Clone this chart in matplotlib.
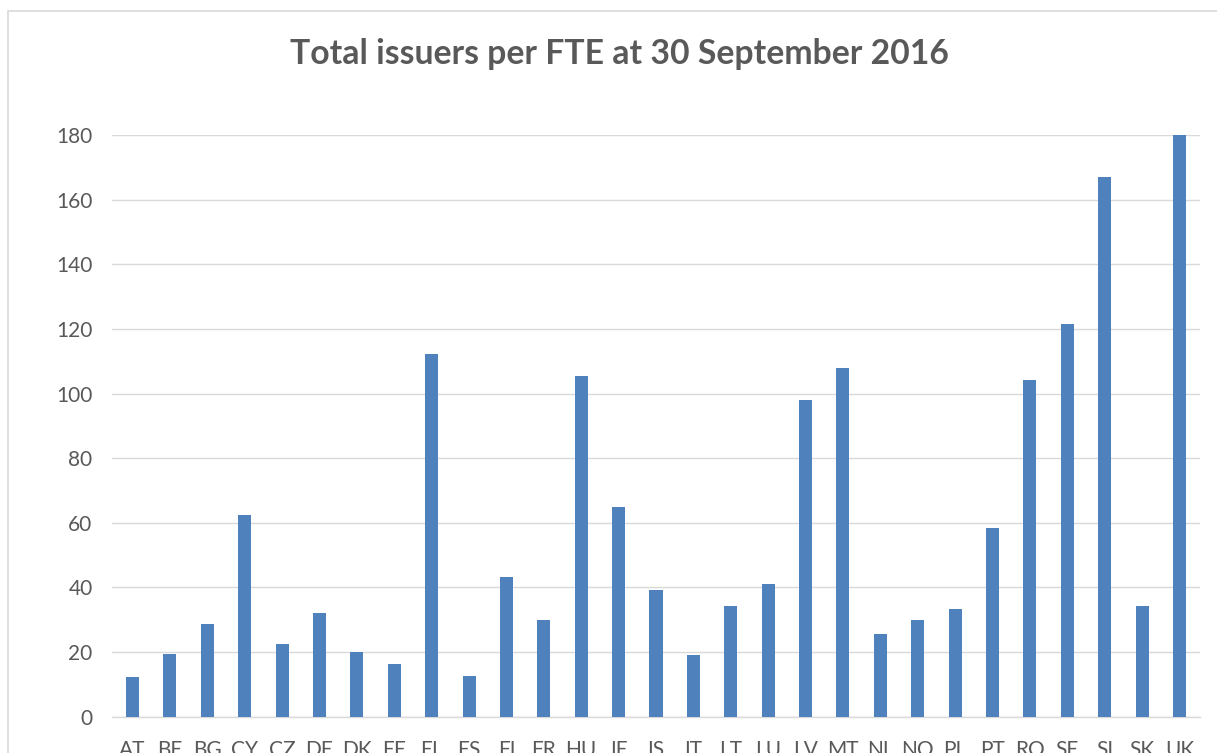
import matplotlib
matplotlib.use('Agg')
import matplotlib.pyplot as plt
from matplotlib.patches import Rectangle

countries = ['AT', 'BE', 'BG', 'CY', 'CZ', 'DE', 'DK', 'EE', 'EL', 'ES',
             'FI', 'FR', 'HU', 'IE', 'IS', 'IT', 'LT', 'LU', 'LV', 'MT',
             'NL', 'NO', 'PL', 'PT', 'RO', 'SE', 'SI', 'SK', 'UK']
issuers_per_fte = [12.2, 19.4, 28.7, 62.3, 22.5, 32.0, 20.0, 16.3, 112.2, 12.5,
                   43.3, 29.9, 105.5, 64.8, 39.3, 19.1, 34.3, 41.0, 97.9, 108.0,
                   25.7, 29.8, 33.4, 58.4, 104.3, 121.6, 166.9, 34.3, 180.0]
y_ticks = [0, 20, 40, 60, 80, 100, 120, 140, 160, 180]

text_grey = '#595959'
grid_grey = '#d9d9d9'

plt.rcParams['font.family'] = ['Lato', 'DejaVu Sans']

fig = plt.figure(figsize=(12.17, 7.53), dpi=100)
ax = fig.add_axes([112 / 1217, 36.3 / 753, (1200 - 112) / 1217, (716.7 - 135) / 753])

# chart frame (cut off at right and bottom like the screenshot)
fig.patches.append(Rectangle((8 / 1217, -0.2), 2.0, 1.2 - 10.5 / 753,
                             transform=fig.transFigure, fill=False,
                             edgecolor=grid_grey, linewidth=1.2, zorder=0))

x = range(len(countries))
ax.bar(x, issuers_per_fte, width=0.35, color='#4f81bd', zorder=3)

ax.set_ylim(0, 180)
ax.set_xlim(-0.55, len(countries) - 0.45)
ax.set_yticks(y_ticks)
ax.set_xticks(list(x))
ax.set_xticklabels(countries)
ax.yaxis.grid(True, color=grid_grey, linewidth=1.0, zorder=0)
ax.set_axisbelow(True)
for s in ['top', 'right', 'left']:
    ax.spines[s].set_visible(False)
ax.spines['bottom'].set_color(grid_grey)
ax.spines['bottom'].set_linewidth(1.0)
ax.tick_params(axis='both', length=0, labelsize=15, colors=text_grey)
ax.tick_params(axis='y', pad=14)
ax.tick_params(axis='x', pad=17)

fig.text(619 / 1217, 1 - 54 / 753, 'Total issuers per FTE at 30 September 2016',
         ha='center', va='center', fontsize=24.3, fontweight='bold', color=text_grey)

fig.savefig('out.png', dpi=100)
